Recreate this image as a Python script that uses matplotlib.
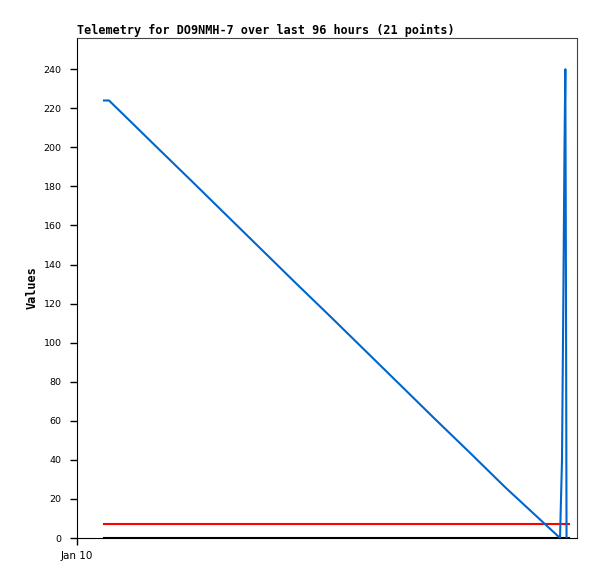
import matplotlib
matplotlib.use("Agg")
import matplotlib.pyplot as plt

# hours since Jan 10 00:00
hours = [5.18, 6.14, 9.22, 15.55, 22.3, 28.8, 35.5, 42.2, 48.8, 55.5, 62.2,
         68.7, 75.5, 82.2, 92.74, 93.12, 93.37, 93.6, 93.76, 93.89, 93.99]
values = [224, 224, 216, 199.5, 182, 165, 147.5, 130, 113, 95.5, 78,
          61, 43.5, 26, 0, 40, 120, 200, 240, 120, 0]
ref_hours = [5.18, 94.5]
red_level = [7, 7]
black_level = [0, 0]

yticks = list(range(0, 241, 20))
xtick_pos = [0]
xtick_labels = ["Jan 10"]

fig = plt.figure(figsize=(5.97, 5.79), dpi=100)
ax = fig.add_axes([0.129, 0.0708, 0.8375, 0.8636])

ax.plot(ref_hours, black_level, color="black", lw=1.5, zorder=2)
ax.plot(ref_hours, red_level, color="#ff0000", lw=1.5, zorder=2)
ax.plot(hours, values, color="#0066cc", lw=1.5, zorder=3)

ax.set_xlim(0, 96)
ax.set_ylim(0, 256)
ax.set_yticks(yticks)
ax.set_yticklabels([str(v) for v in yticks], family="DejaVu Sans", fontsize=6.8)
ax.set_xticks(xtick_pos)
ax.set_xticklabels(xtick_labels, family="DejaVu Sans", fontsize=7.5)
ax.tick_params(axis="y", length=5, width=1, pad=6)
ax.tick_params(axis="x", length=5, width=1, pad=4)

for side in ("top", "right"):
    ax.spines[side].set_color("#444444")
for side in ("left", "bottom"):
    ax.spines[side].set_color("black")

ax.set_title("Telemetry for DO9NMH-7 over last 96 hours (21 points)",
             loc="left", family="DejaVu Sans Mono", fontweight="bold",
             fontsize=8.45, pad=3)
ax.set_ylabel("Values", family="DejaVu Sans Mono", fontweight="bold",
              fontsize=8.6, labelpad=4)

fig.savefig("out.png", dpi=100)
